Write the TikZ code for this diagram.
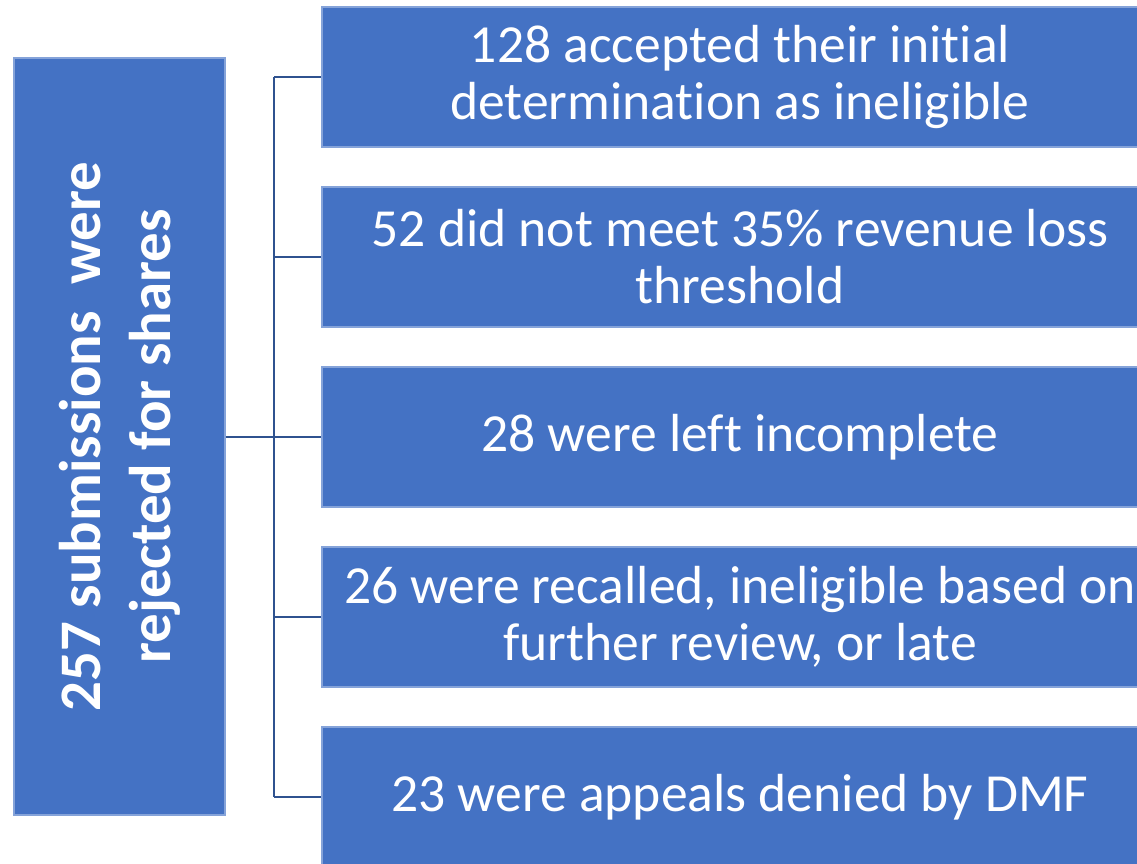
\documentclass[tikz,border=0pt]{standalone}
\usepackage{fontspec}
\setmainfont{Carlito}[Ligatures=NoCommon]
\usetikzlibrary{calc}
\definecolor{boxblue}{HTML}{4472C4}
\definecolor{linkblue}{HTML}{2F528F}

\begin{document}
\begin{tikzpicture}[x=0.02cm,y=-0.02cm,
    reason/.style={rectangle,fill=boxblue,draw=white!35!boxblue,line width=0.6pt,
      minimum width=836*0.02cm,minimum height=140*0.02cm,inner sep=0pt,
      text=white,align=center,font=\fontsize{30.5}{32.5}\selectfont},
    total/.style={rectangle,fill=boxblue,draw=white!35!boxblue,line width=0.6pt,
      minimum width=211*0.02cm,minimum height=757*0.02cm,inner sep=0pt},
    link/.style={linkblue,line width=1.7pt}]
  \useasboundingbox (0,0) rectangle (1137,864);
  \clip (0,0) rectangle (1137,864);
  % left summary box
  \node[total] (all) at (119.5,436.5) {};
  \node[rotate=90,text=white,align=center,font=\bfseries\fontsize{33.5}{40}\selectfont]
    (alltext) at (all.center) {257 submissions\ \ were\\rejected for shares};
  % reasons
  \node[reason] (r1) at (740,77) {128 accepted their initial\\determination as ineligible};
  \node[reason] (r2) at (740,257) {52 did not meet 35\% revenue loss\\threshold};
  \node[reason] (r3) at (740,437) {28 were left incomplete};
  \node[reason] (r4) at (740,617) {26 were recalled, ineligible based on\\further review, or late};
  \node[reason] (r5) at (740,797) {23 were appeals denied by DMF};
  % connectors
  \coordinate (hub) at (274,437);
  \draw[link] (all.east |- hub) -- (hub);
  \draw[link] (hub |- r1.west) -- (hub |- r5.west);
  \foreach \r in {r1,r2,r3,r4,r5}
    \draw[link] (hub |- \r.west) -- (\r.west);
\end{tikzpicture}
\end{document}
